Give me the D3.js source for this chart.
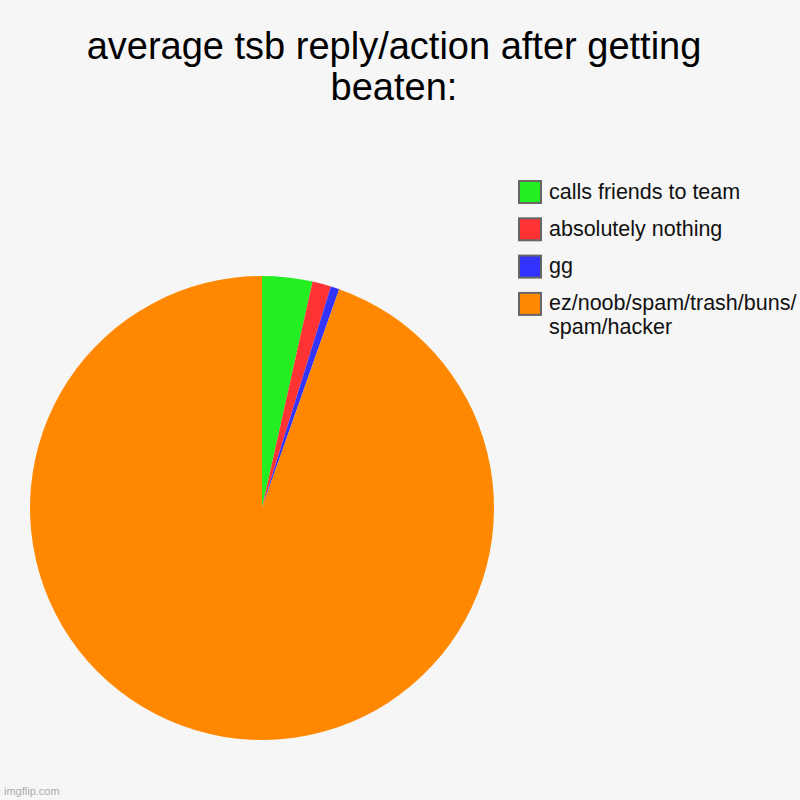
<!DOCTYPE html>
<html>
<head>
<meta charset="utf-8">
<script src="https://cdn.jsdelivr.net/npm/d3@7"></script>
<style>
  body { margin: 0; background: #f6f6f6; }
  svg { display: block; font-family: Arial, "Liberation Sans", sans-serif; }
</style>
</head>
<body>
<svg id="chart" width="800" height="800"></svg>
<script>
// data
const labels = ["calls friends to team", "absolutely nothing", "gg", "ez/noob/spam/trash/buns/spam/hacker"];
const values = [3.5, 1.3, 0.6, 94.6];
const colors = ["#22ee22", "#ff3333", "#3333ff", "#ff8800"];
const titleLines = ["average tsb reply/action after getting", "beaten:"];

const svg = d3.select("#chart");
const width = 800, height = 800;

svg.append("rect")
    .attr("width", width)
    .attr("height", height)
    .attr("fill", "#f6f6f6");

// title
svg.append("text")
    .attr("x", 394)
    .attr("y", 58.5)
    .attr("text-anchor", "middle")
    .style("font-size", "38px")
    .style("fill", "#000")
    .selectAll("tspan")
    .data(titleLines)
    .enter().append("tspan")
    .attr("x", 394)
    .attr("dy", (d, i) => i === 0 ? 0 : 41)
    .text(d => d);

// pie
const data = labels.map((l, i) => ({ label: l, value: values[i], color: colors[i] }));
const pie = d3.pie().sort(null).value(d => d.value);
const arc = d3.arc().innerRadius(0).outerRadius(232);

const g = svg.append("g").attr("transform", "translate(262,508)");
g.selectAll("path")
    .data(pie(data))
    .enter().append("path")
    .attr("d", arc)
    .attr("fill", d => d.data.color);

// legend
const legend = svg.append("g").attr("transform", "translate(518,180)");
const rowY = d3.scaleLinear().domain([0, 1]).range([0, 37.3]);

const item = legend.selectAll(".item")
    .data(data)
    .enter().append("g")
    .attr("class", "item")
    .attr("transform", (d, i) => `translate(0,${rowY(i)})`);

item.append("rect")
    .attr("x", 1)
    .attr("y", 1)
    .attr("width", 22)
    .attr("height", 22)
    .attr("fill", d => d.color)
    .attr("stroke", "#666")
    .attr("stroke-width", 2);

item.append("text")
    .attr("x", 31)
    .attr("y", 18.5)
    .style("font-size", "21.5px")
    .style("fill", "#111")
    .each(function(d) {
        // wrap the long label after the trailing slash like the original
        const t = d3.select(this);
        const cut = d.label.lastIndexOf("/", d.label.length - 8) + 1;
        const parts = d.label.length > 30
            ? [d.label.slice(0, cut), d.label.slice(cut)]
            : [d.label];
        parts.forEach((p, i) => {
            t.append("tspan").attr("x", 31).attr("dy", i === 0 ? 0 : 24).text(p);
        });
    });

// watermark
svg.append("text")
    .attr("x", 4)
    .attr("y", 795)
    .style("font-size", "11px")
    .style("fill", "#aaa")
    .text("imgflip.com");
</script>
</body>
</html>
